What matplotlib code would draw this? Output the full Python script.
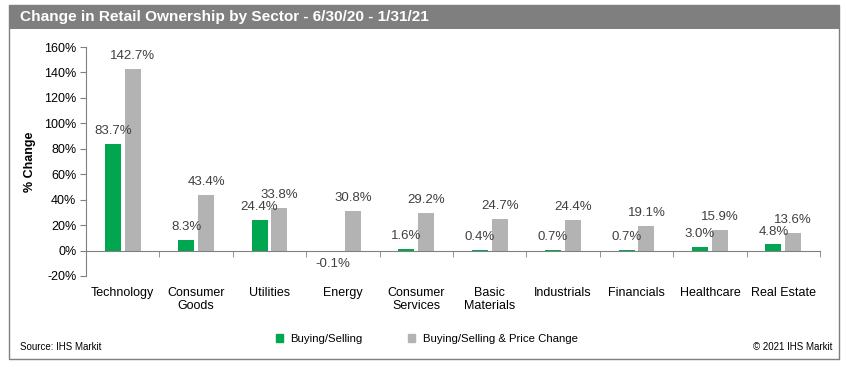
import numpy as np
import matplotlib
matplotlib.use("Agg")
import matplotlib.pyplot as plt
from matplotlib.patches import Rectangle, Patch

# ---------------------------------------------------------------------------
# Data
# ---------------------------------------------------------------------------
sectors = ["Technology", "Consumer\nGoods", "Utilities", "Energy",
           "Consumer\nServices", "Basic\nMaterials", "Industrials",
           "Financials", "Healthcare", "Real Estate"]
buying_selling = [83.7, 8.3, 24.4, -0.1, 1.6, 0.4, 0.7, 0.7, 3.0, 4.8]
with_price = [142.7, 43.4, 33.8, 30.8, 29.2, 24.7, 24.4, 19.1, 15.9, 13.6]
yticks = [-20, 0, 20, 40, 60, 80, 100, 120, 140, 160]

GREEN = "#00a650"
GREY = "#b3b3b3"
AXIS = "#808080"
TXT = "#404040"

plt.rcParams["font.family"] = ["Liberation Sans", "DejaVu Sans"]

W, H = 847, 367
fig = plt.figure(figsize=(W / 100, H / 100), dpi=100)

# Frame and title bar
fig.patches.append(Rectangle((9 / W, 1 - 359 / H), 830 / W, 354 / H,
                             transform=fig.transFigure, fill=False,
                             edgecolor="#7f7f7f", linewidth=1.0))
fig.patches.append(Rectangle((9 / W, 1 - 29 / H), 830 / W, 24 / H,
                             transform=fig.transFigure,
                             facecolor="#7f7f7f", edgecolor="none"))
fig.text(20 / W, 1 - 17.5 / H,
         "Change in Retail Ownership by Sector - 6/30/20 - 1/31/21",
         color="white", fontsize=11.1, fontweight="bold", va="center", ha="left")

# ---------------------------------------------------------------------------
# Axes
# ---------------------------------------------------------------------------
ax = fig.add_axes([86 / W, 1 - 276 / H, (820 - 86) / W, (276 - 47) / H])
x = np.arange(len(sectors))
bw = 0.218
off = 0.136

ax.bar(x - off, buying_selling, width=bw, color=GREEN, label="Buying/Selling")
ax.bar(x + off, with_price, width=bw, color=GREY,
       label="Buying/Selling & Price Change")

for xi, v in zip(x - off, buying_selling):
    ax.annotate(f"{v:.1f}%", (xi, v), xytext=(0, 5 if v >= 0 else -5),
                textcoords="offset points", ha="center",
                va="bottom" if v >= 0 else "top", fontsize=9.5, color=TXT)
for xi, v in zip(x + off, with_price):
    ax.annotate(f"{v:.1f}%", (xi, v), xytext=(0, 5),
                textcoords="offset points", ha="center", va="bottom",
                fontsize=9.5, color=TXT)

ax.set_xlim(-0.5, len(sectors) - 0.5)
ax.set_ylim(-20, 160)
ax.set_yticks(yticks)
ax.set_yticklabels([f"{t}%" for t in yticks])
ax.tick_params(axis="y", direction="out", length=4, color=AXIS,
               labelsize=9, labelcolor="black", pad=3)

ax.spines["top"].set_visible(False)
ax.spines["right"].set_visible(False)
ax.spines["left"].set_color(AXIS)
ax.spines["bottom"].set_color(AXIS)
ax.spines["bottom"].set_position(("data", 0))

ax.set_xticks(x)
ax.set_xticklabels(sectors)
ax.set_xticks(np.arange(len(sectors) + 1) - 0.5, minor=True)
ax.tick_params(axis="x", which="major", length=0, pad=26, labelsize=9)
ax.tick_params(axis="x", which="minor", direction="out", length=4, color=AXIS)

ax.set_ylabel("% Change", fontsize=9, fontweight="bold", labelpad=6)

# Legend and footer
fig.legend(handles=[Patch(color=GREEN, label="Buying/Selling"),
                    Patch(color=GREY, label="Buying/Selling & Price Change")],
           loc="center", bbox_to_anchor=(427 / W, 1 - 339 / H), ncol=2,
           frameon=False, fontsize=8.2, handlelength=0.6, handleheight=0.6,
           handletextpad=0.7, columnspacing=4.0)
fig.text(20 / W, 1 - 347 / H, "Source: IHS Markit", fontsize=7, va="center")
fig.text(832 / W, 1 - 347 / H, "\u00a9 2021 IHS Markit", fontsize=7,
         va="center", ha="right")

fig.savefig("out.png", dpi=100)
